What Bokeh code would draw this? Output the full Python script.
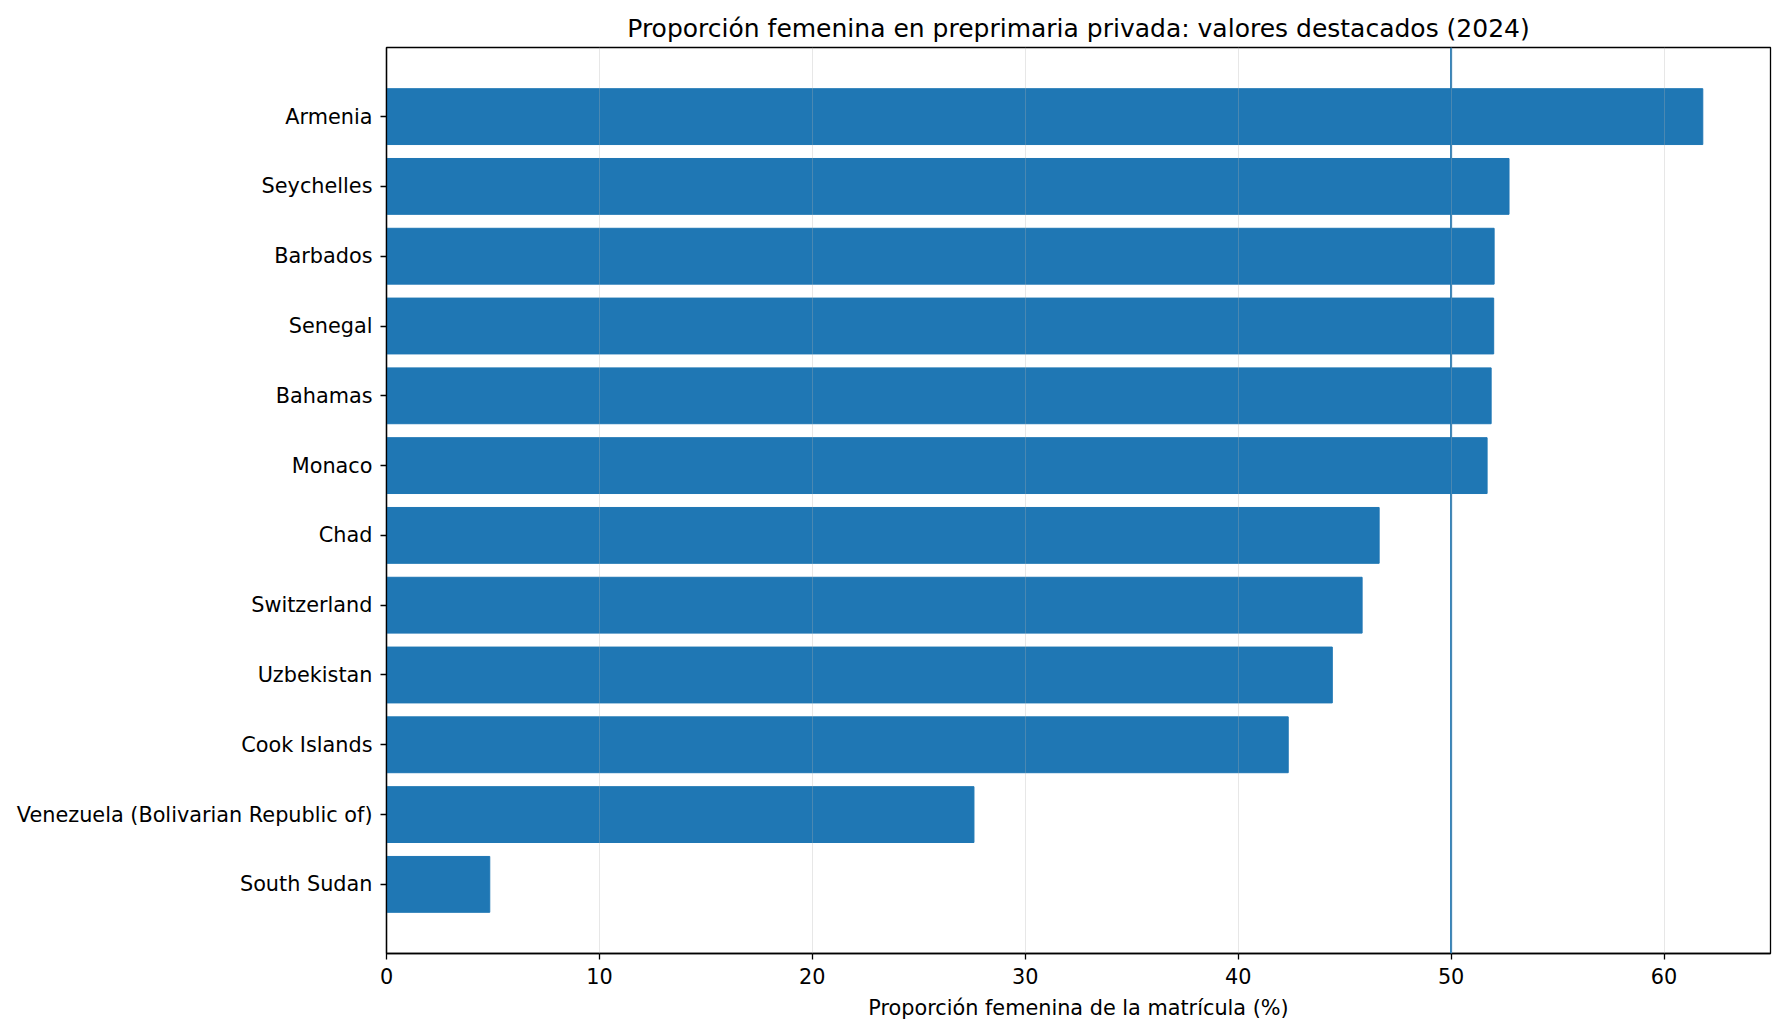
"""Female share of private pre-primary enrolment, highlighted values (2024)."""
from bokeh.embed import file_html
from bokeh.models import FactorRange, FixedTicker, Range1d, Span
from bokeh.plotting import figure
from bokeh.resources import INLINE

# Data, top to bottom as shown
countries = [
    "Armenia",
    "Seychelles",
    "Barbados",
    "Senegal",
    "Bahamas",
    "Monaco",
    "Chad",
    "Switzerland",
    "Uzbekistan",
    "Cook Islands",
    "Venezuela (Bolivarian Republic of)",
    "South Sudan",
]
female_share = [61.82, 52.72, 52.02, 52.0, 51.88, 51.69, 46.62, 45.82, 44.42, 42.35, 27.59, 4.85]
x_ticks = [0, 10, 20, 30, 40, 50, 60]
parity = 50

TITLE = "Proporción femenina en preprimaria privada: valores destacados (2024)"
XLABEL = "Proporción femenina de la matrícula (%)"
FONT = "DejaVu Sans"
BLUE = "#1f77b4"

# bottom-to-top order for the categorical axis
factors = countries[::-1]

p = figure(
    width=1776,
    height=1028,
    y_range=FactorRange(factors=factors, range_padding=0.0817),
    x_range=Range1d(0, 65),
    output_backend="svg",
    toolbar_location=None,
    min_border_left=386,
    min_border_right=6,
    min_border_top=47,
    min_border_bottom=75,
)

p.hbar(y=countries, right=female_share, left=0, height=0.8, color=BLUE)

p.add_layout(
    Span(location=parity, dimension="height", line_color=BLUE, line_width=2)
)

# title
p.title.text = TITLE
p.title.align = "center"
p.title.text_font = FONT
p.title.text_font_size = "25px"
p.title.text_font_style = "normal"
p.title.text_color = "black"
p.title.offset = 0

# frame
p.outline_line_color = "black"
p.outline_line_width = 1.3
p.outline_line_alpha = 1.0

# grid: vertical only, faint, above bars
p.ygrid.grid_line_color = None
p.xgrid.grid_line_color = "#b0b0b0"
p.xgrid.grid_line_alpha = 0.3
p.xgrid.grid_line_width = 1
p.xgrid.level = "overlay"

# axes
p.xaxis.ticker = FixedTicker(ticks=x_ticks)
p.xaxis.minor_tick_line_color = None
p.xaxis.axis_label = XLABEL
for ax in (p.xaxis, p.yaxis):
    ax.axis_line_color = "black"
    ax.axis_line_width = 1.3
    ax.major_tick_line_color = "black"
    ax.major_tick_line_width = 1.3
    ax.major_tick_out = 6
    ax.major_tick_in = 0
    ax.major_label_text_font = FONT
    ax.major_label_text_font_size = "20.8px"
    ax.major_label_text_color = "black"
    ax.axis_label_text_font = FONT
    ax.axis_label_text_font_size = "20.8px"
    ax.axis_label_text_font_style = "normal"
    ax.axis_label_text_color = "black"
p.xaxis.major_label_standoff = 8
p.xaxis.axis_label_standoff = 9
p.yaxis.major_label_standoff = 8
p.yaxis.group_text_font_size = "0px"

open("out.html", "w").write(file_html(p, INLINE))
